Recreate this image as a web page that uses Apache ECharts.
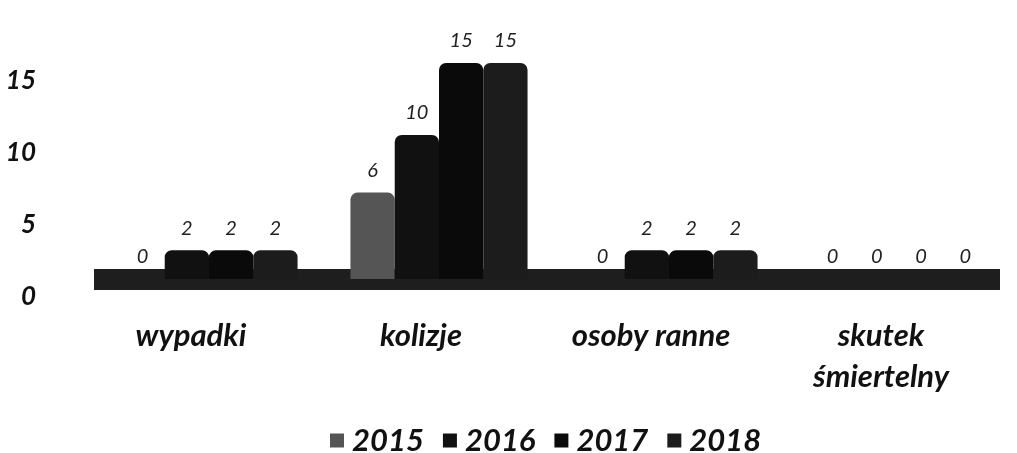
<!DOCTYPE html>
<html>
<head>
<meta charset="utf-8">
<script src="https://cdn.jsdelivr.net/npm/echarts@6/dist/echarts.min.js"></script>
<style>
  html, body { margin: 0; padding: 0; background: #fff; }
  #chart { width: 1017px; height: 453px; }
</style>
</head>
<body>
<div id="chart"></div>
<script>
var categories = ['wypadki', 'kolizje', 'osoby ranne', 'skutek\nśmiertelny'];
var years = ['2015', '2016', '2017', '2018'];
var v2015 = [0, 6, 0, 0];
var v2016 = [2, 10, 2, 0];
var v2017 = [2, 15, 2, 0];
var v2018 = [2, 15, 2, 0];
var yTicks = [0, 5, 10, 15];

var colors = ['#555555', '#111111', '#0a0a0a', '#1c1c1c'];
var values = [v2015, v2016, v2017, v2018];

var chart = echarts.init(document.getElementById('chart'));

var series = [];
for (var i = 0; i < years.length; i++) {
  series.push({
    name: years[i],
    type: 'bar',
    barGap: '0%',
    barCategoryGap: '23%',
    itemStyle: { color: colors[i], borderRadius: [7, 7, 0, 0] },
    label: {
      show: true,
      position: 'top',
      distance: 12,
      fontFamily: 'Lato',
      fontStyle: 'italic',
      fontSize: 20,
      color: '#222'
    },
    data: values[i]
  });
}

var option = {
  animation: false,
  grid: [
    { left: 94, right: 3, top: 63, bottom: 174 },
    // floor band under the bars
    { left: 94, right: 17, top: 63, bottom: 174 }
  ],
  legend: {
    data: years,
    left: 325,
    top: 420,
    itemWidth: 14,
    itemHeight: 14,
    itemGap: 19,
    icon: 'rect',
    textStyle: {
      fontFamily: 'Lato',
      fontStyle: 'italic',
      fontWeight: 'bold',
      fontSize: 31,
      padding: [0, 0, 0, 3],
      color: '#111'
    }
  },
  xAxis: [
    {
      type: 'category',
      data: categories,
      axisTick: { show: false },
      axisLine: { show: false },
      axisLabel: {
        margin: 36,
        padding: [0, 36, 0, 0],
        fontFamily: 'Lato',
        fontStyle: 'italic',
        fontWeight: 'bold',
        fontSize: 31,
        lineHeight: 41,
        color: '#111'
      }
    },
    {
      type: 'category',
      gridIndex: 1,
      data: categories,
      axisTick: { show: false },
      axisLabel: { show: false },
      axisLine: { show: true, lineStyle: { color: '#1e1e1e', width: 21, cap: 'butt' } }
    }
  ],
  yAxis: [
    {
      type: 'value',
      min: 0,
      max: yTicks[yTicks.length - 1],
      interval: 5,
      splitLine: { show: false },
      axisLine: { show: false },
      axisTick: { show: false },
      axisLabel: {
        margin: 58,
        formatter: function (v) { return '\n' + v; },
        lineHeight: 36,
        fontFamily: 'Lato',
        fontStyle: 'italic',
        fontWeight: 'bold',
        fontSize: 26,
        color: '#111'
      }
    },
    {
      type: 'value',
      gridIndex: 1,
      min: 0,
      max: yTicks[yTicks.length - 1],
      show: false
    }
  ],
  series: series
};
option && chart.setOption(option);
</script>
</body>
</html>
